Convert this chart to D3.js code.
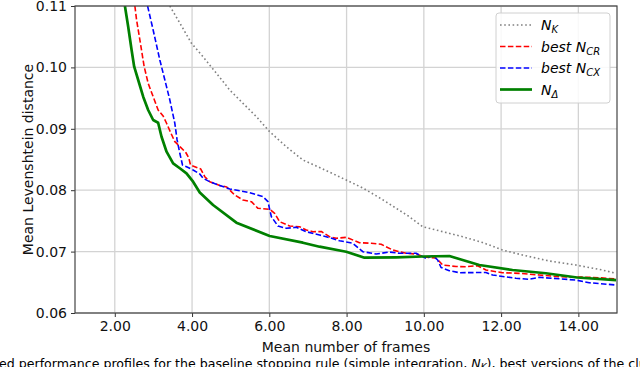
<!DOCTYPE html>
<html><head><meta charset="utf-8">
<script src="https://cdn.jsdelivr.net/npm/d3@7"></script>
<style>
html,body{margin:0;padding:0;background:#fff;}
svg{display:block;}
text{font-family:"DejaVu Sans",sans-serif;}
</style></head>
<body>
<svg id="chart" width="640" height="367"></svg>
<script>
// ---- data ----
const xTicks = [2, 4, 6, 8, 10, 12, 14];
const yTicks = [0.06, 0.07, 0.08, 0.09, 0.10, 0.11];

const nkX = [3.425,3.683,3.986,4.285,4.632,4.975,5.319,5.665,6.009,6.440,6.869,7.301,7.991,8.420,8.807,9.110,9.626,9.970,10.316,11.004,11.520,12.037,12.554,13.244,13.934,14.621,14.975];
const nkY = [0.1100,0.10723,0.10392,0.10174,0.09904,0.09632,0.09415,0.09197,0.08953,0.08708,0.08492,0.08370,0.08166,0.08036,0.07894,0.07775,0.07568,0.07405,0.07352,0.07243,0.07148,0.07026,0.06944,0.06847,0.06782,0.06700,0.06646];

const crX = [2.520,2.564,2.650,2.761,2.864,2.993,3.122,3.252,3.340,3.451,3.554,3.683,3.838,3.916,3.960,4.071,4.226,4.329,4.458,4.717,4.898,5.104,5.319,5.536,5.706,6.009,6.138,6.267,6.526,6.784,6.957,7.128,7.345,7.559,7.732,7.991,8.334,8.637,8.895,9.195,9.541,9.800,10.014,10.316,10.487,10.833,11.092,11.391,11.608,12.037,12.469,12.986,13.502,14.019,14.536,14.975];
const crY = [0.1100,0.10772,0.10446,0.10011,0.09741,0.09523,0.09306,0.09208,0.09090,0.08932,0.08790,0.08712,0.08614,0.08524,0.08410,0.08383,0.08345,0.08220,0.08138,0.08077,0.08052,0.07922,0.07840,0.07813,0.07705,0.07689,0.07624,0.07487,0.07417,0.07405,0.07352,0.07324,0.07327,0.07243,0.07217,0.07233,0.07145,0.07135,0.07119,0.07026,0.06972,0.06961,0.06912,0.06896,0.06782,0.06757,0.06754,0.06770,0.06700,0.06656,0.06646,0.06619,0.06591,0.06586,0.06575,0.06554];

const cxX = [2.849,2.993,3.166,3.296,3.425,3.554,3.613,3.683,3.753,3.856,4.027,4.200,4.285,4.458,4.717,4.975,5.234,5.492,5.836,5.965,6.053,6.223,6.440,6.699,6.957,7.301,7.474,7.818,8.161,8.420,8.766,9.110,9.368,9.800,10.058,10.229,10.358,10.446,10.660,10.918,11.608,11.779,12.384,12.727,12.986,13.934,14.278,14.975];
const cxY = [0.1100,0.10609,0.10121,0.09795,0.09469,0.09090,0.08818,0.08601,0.08410,0.08383,0.08329,0.08264,0.08194,0.08138,0.08077,0.08020,0.07992,0.07959,0.07894,0.07813,0.07568,0.07417,0.07379,0.07396,0.07324,0.07270,0.07243,0.07177,0.07135,0.06998,0.06961,0.06993,0.06972,0.06972,0.06891,0.06933,0.06863,0.06741,0.06689,0.06656,0.06660,0.06619,0.06565,0.06549,0.06581,0.06537,0.06493,0.06456];

const ndX = [2.262,2.347,2.435,2.502,2.606,2.735,2.864,2.993,3.122,3.210,3.340,3.510,3.683,3.856,4.027,4.200,4.544,5.148,6.009,6.869,7.300,7.991,8.463,9.283,9.970,10.660,11.004,11.435,12.296,13.159,13.968,14.975];
const ndY = [0.1100,0.10663,0.10283,0.10011,0.09795,0.09523,0.09306,0.09143,0.09099,0.08871,0.08627,0.08438,0.08357,0.08275,0.08139,0.07963,0.07759,0.07471,0.07254,0.07145,0.07080,0.06998,0.06901,0.06907,0.06920,0.06928,0.06863,0.06782,0.06700,0.06647,0.06578,0.06537];

const seriesNames = ["K", "CR", "CX", "Δ"];
const caption = "ed performance profiles for the baseline stopping rule (simple integration, ";

// ---- layout ----
const L = 75, R = 617, T = 6, B = 313;
const svg = d3.select("#chart");
const x = d3.scaleLinear().domain([0.97, 15]).range([L, R]);
const y = d3.scaleLinear().domain([0.06, 0.11]).range([B, T]);

// grid
svg.append("g").selectAll("line").data(xTicks).join("line")
  .attr("x1", d => x(d)).attr("x2", d => x(d)).attr("y1", T).attr("y2", B)
  .attr("stroke", "#d3d3d3").attr("stroke-width", 1.3);
svg.append("g").selectAll("line").data(yTicks).join("line")
  .attr("x1", L).attr("x2", R).attr("y1", d => y(d)).attr("y2", d => y(d))
  .attr("stroke", "#d3d3d3").attr("stroke-width", 1.3);

// clip
svg.append("clipPath").attr("id", "clip").append("rect")
  .attr("x", L).attr("y", T).attr("width", R - L).attr("height", B - T);

const line = d3.line().x(d => x(d[0])).y(d => y(d[1]));
const zip = (a, b) => a.map((v, i) => [v, b[i]]);

const series = [
  {xs: nkX, ys: nkY, color: "#808080", width: 1.6, dash: "1.6,2.6"},
  {xs: crX, ys: crY, color: "#ff0000", width: 1.6, dash: "5.5,2.4"},
  {xs: cxX, ys: cxY, color: "#0000ff", width: 1.6, dash: "5.5,2.4"},
  {xs: ndX, ys: ndY, color: "#008000", width: 2.7, dash: null}
];
const gLines = svg.append("g").attr("clip-path", "url(#clip)");
series.forEach(s => {
  gLines.append("path").attr("d", line(zip(s.xs, s.ys)))
    .attr("fill", "none").attr("stroke", s.color).attr("stroke-width", s.width)
    .attr("stroke-dasharray", s.dash).attr("stroke-linejoin", "round");
});

// axes
const xAxis = d3.axisBottom(x).tickValues(xTicks).tickFormat(d3.format(".2f")).tickSizeOuter(0).tickSize(4).tickPadding(4);
const yAxis = d3.axisLeft(y).tickValues(yTicks).tickFormat(d3.format(".2f")).tickSizeOuter(0).tickSize(4).tickPadding(4);
const gx = svg.append("g").attr("transform", `translate(0,${B})`).call(xAxis);
const gy = svg.append("g").attr("transform", `translate(${L},0)`).call(yAxis);
[gx, gy].forEach(g => {
  g.select(".domain").remove();
  g.selectAll("line").attr("stroke", "#333");
  g.selectAll("text").attr("font-size", 14).attr("fill", "#111").attr("font-family", "DejaVu Sans");
});
// spines
svg.append("rect").attr("x", L).attr("y", T).attr("width", R - L).attr("height", B - T)
  .attr("fill", "none").attr("stroke", "#444").attr("stroke-width", 1.2);

// axis labels
svg.append("text").attr("x", (L + R) / 2).attr("y", 352).attr("text-anchor", "middle")
  .attr("font-size", 14).attr("fill", "#111").text("Mean number of frames");
svg.append("text").attr("transform", `translate(33,${(T + B) / 2}) rotate(-90)`)
  .attr("text-anchor", "middle").attr("font-size", 14).attr("fill", "#111").text("Mean Levenshtein distance");

// legend
const lg = svg.append("g");
lg.append("rect").attr("x", 496).attr("y", 13).attr("width", 114).attr("height", 90).attr("rx", 3)
  .attr("fill", "#fff").attr("fill-opacity", 0.85).attr("stroke", "#d0d0d0").attr("stroke-width", 1);
const prefixes = ["", "best ", "best ", ""];
series.forEach((s, i) => {
  const yy = 25 + i * 21.5;
  lg.append("line").attr("x1", 500).attr("x2", 532).attr("y1", yy).attr("y2", yy)
    .attr("stroke", s.color).attr("stroke-width", s.width).attr("stroke-dasharray", s.dash);
  const t = lg.append("text").attr("x", 541).attr("y", yy + 5).attr("font-size", 14)
    .attr("font-style", "italic").attr("fill", "#000");
  t.append("tspan").text(prefixes[i] + "N");
  t.append("tspan").attr("font-size", 10).attr("dy", 3).text(seriesNames[i]);
});

// caption (partially cut off at bottom, as in the reference)
const cap = svg.append("text").attr("x", -1).attr("y", 368).attr("font-family", "Liberation Serif, serif")
  .attr("font-size", 12.6).attr("fill", "#000");
cap.append("tspan").text(caption);
cap.append("tspan").attr("font-style", "italic").text("N");
cap.append("tspan").attr("font-style", "italic").attr("font-size", 9).attr("dy", 2).text("K");
cap.append("tspan").attr("dy", -2).text("), best versions of the clu");
</script>
</body></html>
